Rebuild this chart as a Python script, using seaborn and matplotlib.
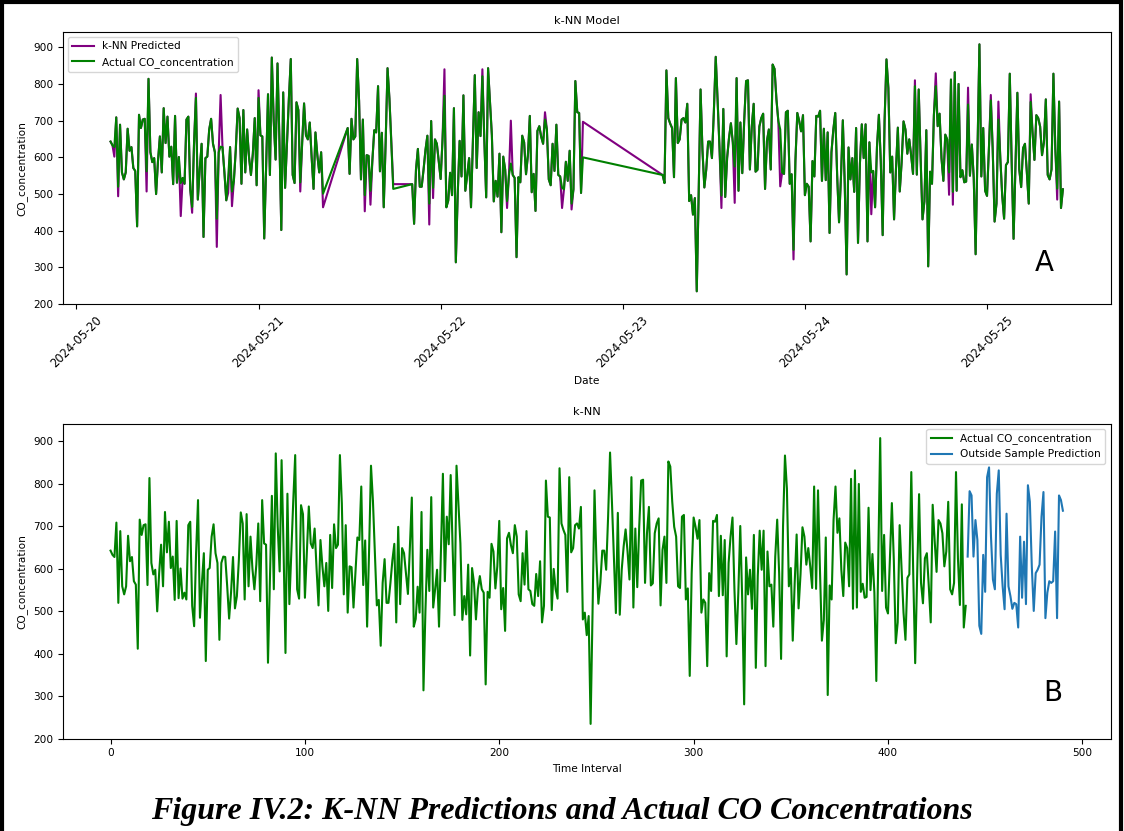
import pandas as pd
import numpy as np
import seaborn as sns
import matplotlib.pyplot as plt
import matplotlib.dates as mdates
from matplotlib.patches import Rectangle

# measured CO_concentration, split where the time stamps have gaps (15 min steps)
seg_starts = ['2024-05-20 04:30', '2024-05-21 11:45', '2024-05-21 20:15', '2024-05-23 05:15']

seg1_co = [643, 633, 628, 709, 520, 689, 559, 540, 559, 678,
           618, 628, 571, 563, 412, 716, 680, 703, 705, 562,
           814, 614, 587, 598, 500, 590, 657, 559, 734, 639,
           711, 602, 629, 527, 713, 531, 601, 530, 544, 528,
           703, 711, 513, 465, 637, 762, 485, 567, 637, 383,
           598, 602, 676, 705, 637, 614, 433, 614, 629, 628,
           560, 483, 545, 628, 507, 536, 620, 733, 707, 528,
           729, 559, 676, 600, 552, 610, 707, 524, 762, 660,
           657, 379, 580, 772, 552, 872, 700, 594, 856, 650,
           402, 777, 517, 640, 760, 868, 552, 530, 750, 729,
           532, 640, 747, 660, 649, 695, 600, 514, 668, 606,
           559, 614, 501]

seg2_co = [680, 555, 705, 649, 657, 868, 754, 540, 703, 497,
           606, 604, 509, 590, 674, 668, 794, 562, 667, 464,
           640, 843, 760, 640, 514]

seg3_co = [527, 419, 567, 623, 520, 520, 567, 620, 659, 474,
           699, 517, 649, 637, 590, 541, 650, 768, 464, 482,
           558, 497, 734, 314, 500, 645, 548, 769, 509, 552,
           598, 464, 640, 824, 571, 723, 658, 821, 650, 491,
           843, 750, 660, 480, 536, 493, 610, 396, 602, 567,
           481, 552, 583, 552, 544, 328, 546, 532, 659, 641,
           554, 606, 713, 505, 555, 454, 672, 685, 656, 637,
           703, 676, 540, 524, 637, 563, 689, 552, 548, 517,
           513, 588, 536, 618, 474, 513, 808, 723, 721, 503,
           600]

seg4_co = [552, 530, 837, 707, 692, 680, 546, 816, 639, 649,
           703, 707, 695, 746, 481, 497, 444, 489, 235, 500,
           785, 620, 518, 567, 643, 643, 598, 723, 874, 754,
           622, 496, 732, 492, 598, 653, 693, 641, 575, 816,
           509, 695, 557, 699, 808, 810, 567, 684, 746, 561,
           566, 684, 707, 719, 514, 645, 676, 567, 853, 841,
           758, 699, 676, 559, 555, 723, 727, 528, 554, 348,
           590, 721, 699, 671, 715, 497, 528, 520, 371, 590,
           548, 713, 711, 727, 536, 678, 538, 668, 394, 614,
           676, 721, 552, 423, 544, 701, 528, 281, 627, 540,
           598, 506, 680, 367, 583, 690, 598, 690, 371, 641,
           559, 563, 464, 629, 716, 590, 388, 699, 867, 789,
           559, 602, 431, 567, 681, 507, 587, 698, 676, 610,
           649, 606, 555, 794, 553, 785, 598, 431, 480, 674,
           303, 561, 528, 715, 794, 685, 719, 598, 536, 662,
           649, 559, 812, 506, 832, 509, 800, 546, 565, 532,
           534, 744, 550, 635, 544, 336, 622, 908, 548, 680,
           509, 495, 622, 755, 622, 425, 474, 703, 598, 497,
           433, 579, 587, 828, 587, 378, 583, 776, 567, 519,
           625, 637, 559, 474, 751, 668, 593, 715, 707, 684,
           606, 641, 758, 552, 540, 567, 828, 625, 515, 752,
           462, 513]

# k-NN predicted values where they differ visibly from the measured ones
pred_idx = [2, 4, 19, 37, 43, 45, 56, 58, 62, 64, 78, 100, 112, 122, 125, 137,
            147, 149, 155, 175, 188, 190, 208, 217, 222, 228,
            260, 267, 291, 298, 339, 362, 373, 380, 382, 390, 402, 406, 423, 437]
pred_val = [602, 494, 507, 440, 449, 774, 356, 770, 503, 467, 783, 507, 464, 453, 471, 527,
            417, 489, 840, 840, 462, 700, 723, 462, 458, 697,
            462, 476, 521, 322, 445, 810, 829, 498, 471, 790, 770, 752, 772, 485]

# out of sample forecast (panel B)
outside_pred = [629, 783, 773, 629, 715, 668, 466, 447, 633, 546,
                816, 839, 676, 575, 552, 777, 832, 633, 559, 505,
                730, 559, 536, 506, 520, 517, 462, 676, 532, 664,
                517, 797, 758, 606, 501, 590, 598, 610, 723, 781,
                484, 544, 571, 567, 571, 688, 484, 773, 762, 737]

segs = [seg1_co, seg2_co, seg3_co, seg4_co]
dates = []
for start, seg in zip(seg_starts, segs):
    dates += list(pd.date_range(start, periods=len(seg), freq='15min'))

df = pd.DataFrame({'Date': dates, 'Actual': sum(segs, [])})
df['Pred'] = df['Actual'].astype(float)
df.loc[pred_idx, 'Pred'] = pred_val
df['Interval'] = np.arange(len(df))
out_df = pd.DataFrame({'Interval': np.arange(len(df), len(df) + len(outside_pred)),
                       'Pred': outside_pred})

fs = 7.6
fig = plt.figure(figsize=(11.24, 8.31), dpi=100)
ax1 = fig.add_axes([0.056, 0.634, 0.932, 0.3275])
ax2 = fig.add_axes([0.056, 0.111, 0.932, 0.379])

sns.lineplot(data=df, x='Date', y='Pred', ax=ax1, color='purple', label='k-NN Predicted')
sns.lineplot(data=df, x='Date', y='Actual', ax=ax1, color='green', label='Actual CO_concentration')
ax1.set_title('k-NN Model', fontsize=8.2)
ax1.set_xlabel('Date', fontsize=fs)
ax1.set_ylabel('CO_concentration', fontsize=fs)
ax1.set_ylim(bottom=200)
ax1.set_yticks(range(200, 901, 100))
ax1.xaxis.set_major_locator(mdates.DayLocator())
ax1.xaxis.set_major_formatter(mdates.DateFormatter('%Y-%m-%d'))
ax1.tick_params(axis='x', rotation=45, labelsize=8.3)
ax1.tick_params(axis='y', labelsize=fs)
ax1.legend(loc='upper left', fontsize=7.6)
ax1.text(0.937, 0.15, 'A', transform=ax1.transAxes, fontsize=20, ha='center', va='center')

sns.lineplot(data=df, x='Interval', y='Actual', ax=ax2, color='green', label='Actual CO_concentration')
sns.lineplot(data=out_df, x='Interval', y='Pred', ax=ax2, color='#1f77b4', label='Outside Sample Prediction')
ax2.set_title('k-NN', fontsize=8.2)
ax2.set_xlabel('Time Interval', fontsize=fs)
ax2.set_ylabel('CO_concentration', fontsize=fs)
ax2.tick_params(labelsize=fs)
ax2.set_yticks(range(200, 901, 100))
ax2.legend(loc='upper right', fontsize=7.6)
ax2.text(0.945, 0.146, 'B', transform=ax2.transAxes, fontsize=20, ha='center', va='center')

fig.text(0.5, 1 - 812 / 831, 'Figure IV.2: K-NN Predictions and Actual CO Concentrations',
         family='Liberation Serif', weight='bold', style='italic', fontsize=23,
         ha='center', va='center')
fig.patches.append(Rectangle((0.002, -0.1), 0.995, 1.097, transform=fig.transFigure,
                             fill=False, edgecolor='black', linewidth=3))

fig.savefig('out.png', dpi=100)
